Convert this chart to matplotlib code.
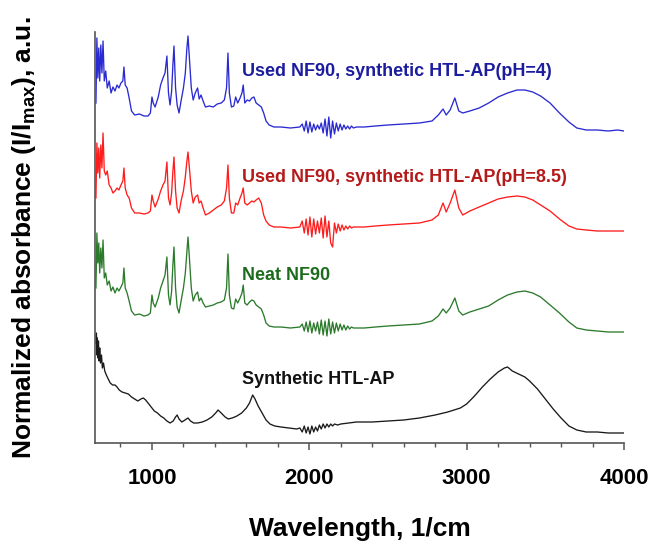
import matplotlib
matplotlib.use("Agg")
import matplotlib.pyplot as plt
from matplotlib.ticker import MultipleLocator

# spectra: (wavenumber 1/cm, stacked absorbance a.u.)
used_ph4 = [
    (644, 3.40), (650, 4.05), (656, 3.65), (662, 3.95), (668, 3.62), (675, 3.98), (682, 3.70), (689, 4.02),
    (697, 3.62), (706, 3.72), (716, 3.55), (728, 3.62), (740, 3.50), (752, 3.56), (765, 3.52), (778, 3.58),
    (790, 3.55), (803, 3.60), (815, 3.62), (822, 3.76), (830, 3.58), (842, 3.55), (855, 3.45), (870, 3.32),
    (890, 3.28), (920, 3.29), (950, 3.27), (975, 3.27), (990, 3.30), (1000, 3.46), (1008, 3.40), (1020, 3.36),
    (1040, 3.46), (1055, 3.58), (1070, 3.65), (1083, 3.70), (1095, 3.87), (1105, 3.50), (1115, 3.38),
    (1125, 3.52), (1133, 3.78), (1140, 3.97), (1150, 3.55), (1160, 3.38), (1172, 3.30), (1185, 3.42),
    (1200, 3.55), (1212, 3.70), (1222, 3.95), (1229, 4.07), (1238, 3.85), (1250, 3.55), (1262, 3.43),
    (1275, 3.50), (1290, 3.55), (1300, 3.44), (1312, 3.48), (1325, 3.42), (1340, 3.36), (1365, 3.37),
    (1390, 3.36), (1415, 3.39), (1440, 3.40), (1460, 3.43), (1474, 3.55), (1483, 3.90), (1492, 3.50),
    (1505, 3.36), (1520, 3.37), (1532, 3.46), (1545, 3.40), (1560, 3.45), (1572, 3.50), (1580, 3.58),
    (1590, 3.40), (1605, 3.43), (1620, 3.42), (1635, 3.45), (1648, 3.46), (1662, 3.40), (1678, 3.38),
    (1695, 3.36), (1710, 3.30), (1725, 3.22), (1745, 3.18), (1775, 3.16), (1820, 3.16), (1880, 3.15),
    (1940, 3.16), (1955, 3.19), (1968, 3.12), (1980, 3.22), (1992, 3.10), (2004, 3.21), (2016, 3.11),
    (2028, 3.19), (2040, 3.13), (2052, 3.18), (2064, 3.14), (2076, 3.20), (2088, 3.10), (2100, 3.24),
    (2112, 3.07), (2124, 3.26), (2136, 3.05), (2148, 3.22), (2160, 3.09), (2172, 3.20), (2184, 3.12),
    (2196, 3.19), (2208, 3.13), (2220, 3.18), (2232, 3.14), (2244, 3.17), (2256, 3.14), (2268, 3.17),
    (2280, 3.15), (2300, 3.16), (2350, 3.16), (2420, 3.17), (2500, 3.18), (2600, 3.19), (2700, 3.20),
    (2780, 3.22), (2820, 3.28), (2850, 3.34), (2870, 3.28), (2895, 3.33), (2925, 3.45), (2950, 3.32),
    (2975, 3.30), (3020, 3.32), (3080, 3.35), (3140, 3.40), (3200, 3.46), (3260, 3.50), (3320, 3.53),
    (3370, 3.53), (3420, 3.51), (3470, 3.47), (3530, 3.40), (3590, 3.30), (3650, 3.21), (3700, 3.15),
    (3760, 3.13), (3830, 3.13), (3900, 3.12), (3960, 3.13), (4000, 3.12),
]

used_ph85 = [
    (644, 2.45), (650, 3.00), (656, 2.70), (662, 2.95), (668, 2.65), (675, 2.98), (682, 2.75), (689, 3.10),
    (697, 2.72), (706, 2.68), (716, 2.72), (728, 2.58), (740, 2.55), (752, 2.50), (765, 2.52), (778, 2.55),
    (790, 2.53), (803, 2.58), (815, 2.62), (822, 2.75), (830, 2.55), (842, 2.48), (855, 2.45), (870, 2.35),
    (890, 2.30), (920, 2.30), (950, 2.29), (975, 2.30), (990, 2.32), (1000, 2.48), (1008, 2.42), (1020, 2.36),
    (1040, 2.44), (1055, 2.52), (1070, 2.58), (1083, 2.62), (1095, 2.81), (1105, 2.45), (1115, 2.38),
    (1125, 2.50), (1133, 2.72), (1140, 2.86), (1150, 2.52), (1160, 2.35), (1172, 2.30), (1185, 2.42),
    (1200, 2.52), (1212, 2.66), (1222, 2.82), (1229, 2.91), (1238, 2.75), (1250, 2.52), (1262, 2.40),
    (1275, 2.46), (1290, 2.48), (1300, 2.40), (1312, 2.42), (1325, 2.35), (1340, 2.28), (1365, 2.30),
    (1390, 2.33), (1415, 2.36), (1440, 2.38), (1460, 2.42), (1474, 2.55), (1483, 2.78), (1492, 2.45),
    (1505, 2.30), (1520, 2.30), (1532, 2.40), (1545, 2.38), (1560, 2.45), (1572, 2.50), (1580, 2.55),
    (1590, 2.40), (1605, 2.38), (1620, 2.40), (1635, 2.42), (1648, 2.41), (1662, 2.43), (1678, 2.45),
    (1695, 2.40), (1710, 2.28), (1725, 2.22), (1745, 2.18), (1775, 2.16), (1820, 2.16), (1880, 2.15),
    (1940, 2.16), (1955, 2.22), (1968, 2.10), (1980, 2.24), (1992, 2.08), (2004, 2.26), (2016, 2.06),
    (2028, 2.24), (2040, 2.09), (2052, 2.22), (2064, 2.10), (2076, 2.25), (2088, 2.05), (2100, 2.27),
    (2112, 2.06), (2124, 2.22), (2136, 2.00), (2148, 1.96), (2160, 2.20), (2172, 2.10), (2184, 2.19),
    (2196, 2.12), (2208, 2.18), (2220, 2.13), (2232, 2.17), (2244, 2.14), (2256, 2.17), (2268, 2.15),
    (2280, 2.16), (2300, 2.16), (2350, 2.16), (2420, 2.17), (2500, 2.18), (2600, 2.19), (2700, 2.20),
    (2780, 2.23), (2820, 2.28), (2850, 2.40), (2870, 2.31), (2895, 2.40), (2925, 2.53), (2950, 2.35),
    (2975, 2.28), (3020, 2.32), (3080, 2.36), (3140, 2.40), (3200, 2.44), (3260, 2.46), (3320, 2.47),
    (3370, 2.46), (3420, 2.43), (3470, 2.38), (3530, 2.32), (3590, 2.24), (3650, 2.17), (3700, 2.14),
    (3760, 2.13), (3830, 2.12), (3900, 2.12), (3960, 2.12), (4000, 2.12),
]

neat_nf90 = [
    (644, 1.55), (650, 2.10), (656, 1.80), (662, 2.00), (668, 1.70), (675, 1.95), (682, 1.75), (689, 2.03),
    (697, 1.65), (706, 1.70), (716, 1.58), (728, 1.62), (740, 1.52), (752, 1.56), (765, 1.50), (778, 1.55),
    (790, 1.52), (803, 1.56), (815, 1.60), (822, 1.75), (830, 1.55), (842, 1.50), (855, 1.42), (870, 1.32),
    (890, 1.28), (920, 1.29), (950, 1.27), (975, 1.28), (990, 1.30), (1000, 1.48), (1008, 1.40), (1020, 1.36),
    (1040, 1.45), (1055, 1.55), (1070, 1.62), (1083, 1.68), (1095, 1.86), (1105, 1.48), (1115, 1.38),
    (1125, 1.52), (1133, 1.78), (1140, 1.96), (1150, 1.55), (1160, 1.36), (1172, 1.30), (1185, 1.42),
    (1200, 1.55), (1212, 1.70), (1222, 1.92), (1229, 2.06), (1238, 1.85), (1250, 1.55), (1262, 1.42),
    (1275, 1.48), (1290, 1.51), (1300, 1.42), (1312, 1.45), (1325, 1.40), (1340, 1.36), (1365, 1.37),
    (1390, 1.38), (1415, 1.40), (1440, 1.41), (1460, 1.43), (1474, 1.55), (1483, 1.89), (1492, 1.48),
    (1505, 1.35), (1520, 1.34), (1532, 1.44), (1545, 1.40), (1560, 1.45), (1572, 1.50), (1580, 1.58),
    (1590, 1.40), (1605, 1.38), (1620, 1.41), (1635, 1.43), (1648, 1.42), (1662, 1.38), (1678, 1.36),
    (1695, 1.34), (1710, 1.28), (1725, 1.20), (1745, 1.17), (1775, 1.16), (1820, 1.16), (1880, 1.15),
    (1940, 1.16), (1955, 1.19), (1968, 1.12), (1980, 1.21), (1992, 1.11), (2004, 1.22), (2016, 1.10),
    (2028, 1.20), (2040, 1.12), (2052, 1.21), (2064, 1.09), (2076, 1.23), (2088, 1.08), (2100, 1.22),
    (2112, 1.07), (2124, 1.24), (2136, 1.09), (2148, 1.21), (2160, 1.10), (2172, 1.20), (2184, 1.12),
    (2196, 1.19), (2208, 1.13), (2220, 1.18), (2232, 1.13), (2244, 1.17), (2256, 1.14), (2268, 1.16),
    (2280, 1.15), (2300, 1.15), (2350, 1.15), (2420, 1.16), (2500, 1.17), (2600, 1.18), (2700, 1.19),
    (2780, 1.22), (2820, 1.27), (2850, 1.34), (2870, 1.30), (2895, 1.35), (2925, 1.45), (2950, 1.32),
    (2975, 1.28), (3020, 1.31), (3080, 1.34), (3140, 1.37), (3200, 1.43), (3260, 1.48), (3320, 1.51),
    (3370, 1.52), (3420, 1.50), (3470, 1.46), (3530, 1.38), (3590, 1.30), (3650, 1.21), (3700, 1.15),
    (3760, 1.13), (3830, 1.12), (3900, 1.11), (3960, 1.11), (4000, 1.11),
]

synthetic_htl = [
    (644, 1.00), (647, 1.10), (650, 0.88), (653, 1.05), (656, 0.85), (660, 1.02), (664, 0.82), (668, 0.95),
    (673, 0.80), (679, 0.88), (685, 0.75), (692, 0.80), (700, 0.72), (710, 0.68), (722, 0.64), (735, 0.60),
    (750, 0.58), (765, 0.58), (778, 0.56), (792, 0.53), (810, 0.51), (830, 0.50), (850, 0.49), (870, 0.46),
    (890, 0.44), (910, 0.42), (930, 0.44), (945, 0.45), (960, 0.43), (975, 0.40), (995, 0.36), (1015, 0.32),
    (1035, 0.30), (1055, 0.27), (1075, 0.25), (1095, 0.22), (1115, 0.20), (1135, 0.22), (1150, 0.26),
    (1160, 0.28), (1172, 0.24), (1190, 0.21), (1210, 0.23), (1229, 0.25), (1245, 0.22), (1265, 0.20),
    (1290, 0.20), (1320, 0.21), (1350, 0.23), (1380, 0.26), (1405, 0.30), (1420, 0.33), (1440, 0.30),
    (1465, 0.26), (1485, 0.24), (1510, 0.25), (1540, 0.27), (1570, 0.30), (1600, 0.35), (1620, 0.40),
    (1640, 0.48), (1655, 0.44), (1675, 0.37), (1700, 0.30), (1725, 0.23), (1750, 0.19), (1780, 0.17),
    (1820, 0.16), (1870, 0.15), (1920, 0.14), (1940, 0.15), (1955, 0.11), (1968, 0.17), (1980, 0.10),
    (1992, 0.16), (2004, 0.09), (2016, 0.17), (2028, 0.11), (2040, 0.16), (2052, 0.12), (2064, 0.18),
    (2076, 0.14), (2088, 0.19), (2100, 0.15), (2112, 0.19), (2124, 0.16), (2136, 0.19), (2148, 0.17),
    (2160, 0.19), (2180, 0.18), (2200, 0.19), (2250, 0.20), (2300, 0.21), (2400, 0.21), (2500, 0.22),
    (2600, 0.23), (2700, 0.25), (2800, 0.28), (2880, 0.31), (2920, 0.33), (2960, 0.35), (3000, 0.39),
    (3050, 0.47), (3100, 0.56), (3150, 0.64), (3200, 0.71), (3240, 0.75), (3260, 0.76), (3290, 0.72),
    (3330, 0.69), (3370, 0.66), (3400, 0.62), (3450, 0.54), (3500, 0.44), (3550, 0.34), (3600, 0.25),
    (3650, 0.17), (3700, 0.13), (3760, 0.11), (3830, 0.11), (3900, 0.10), (3960, 0.10), (4000, 0.10),
]

labels = ["Used NF90, synthetic HTL-AP(pH=4)", "Used NF90, synthetic HTL-AP(pH=8.5)",
          "Neat NF90", "Synthetic HTL-AP"]
label_y = [3.67, 2.61, 1.63, 0.59]
x_ticks = [1000, 2000, 3000, 4000]

line_colors = ["#2a2ad2", "#ff1c1c", "#2c7a2c", "#1a1a1a"]
text_colors = ["#1c1c9e", "#b51a1a", "#1d6b1d", "#111111"]

plt.rcParams['font.family'] = ['Liberation Sans', 'DejaVu Sans']
plt.rcParams['mathtext.fontset'] = 'custom'
plt.rcParams['mathtext.rm'] = 'Liberation Sans:bold'
plt.rcParams['mathtext.it'] = 'Liberation Sans:bold'
plt.rcParams['mathtext.bf'] = 'Liberation Sans:bold'

fig = plt.figure(figsize=(6.53, 5.43), dpi=100)
ax = fig.add_axes([95 / 653, 100 / 543, 529 / 653, 411 / 543])

for spec, c in zip([used_ph4, used_ph85, neat_nf90, synthetic_htl], line_colors):
    wn, ab = zip(*spec)
    ax.plot(wn, ab, color=c, lw=0.95)

for txt, y, c in zip(labels, label_y, text_colors):
    ax.text(1572, y, txt, color=c, fontsize=13, fontweight='bold', va='baseline', ha='left')

ax.set_xlim(638, 4000)
ax.set_ylim(0, 4.11)
ax.set_xticks(x_ticks)
ax.xaxis.set_minor_locator(MultipleLocator(200))
ax.set_yticks([])
for s in ['top', 'right']:
    ax.spines[s].set_visible(False)
for s in ['left', 'bottom']:
    ax.spines[s].set_color('#555555')
    ax.spines[s].set_linewidth(1.2)
ax.tick_params(axis='x', which='major', direction='out', length=5, width=1.1, color='#555555',
               labelsize=16, pad=13)
ax.tick_params(axis='x', which='minor', direction='out', length=3, width=1.0, color='#555555')
for lb in ax.get_xticklabels():
    lb.set_fontweight('bold')

ax.set_xlabel('Wavelength, 1/cm', fontsize=19, fontweight='bold', labelpad=20)
ax.set_ylabel(r'Normalized absorbance (I/I$_{\mathrm{max}}$), a.u.', fontsize=19,
              fontweight='bold', labelpad=41)

fig.savefig('out.png', dpi=100)
